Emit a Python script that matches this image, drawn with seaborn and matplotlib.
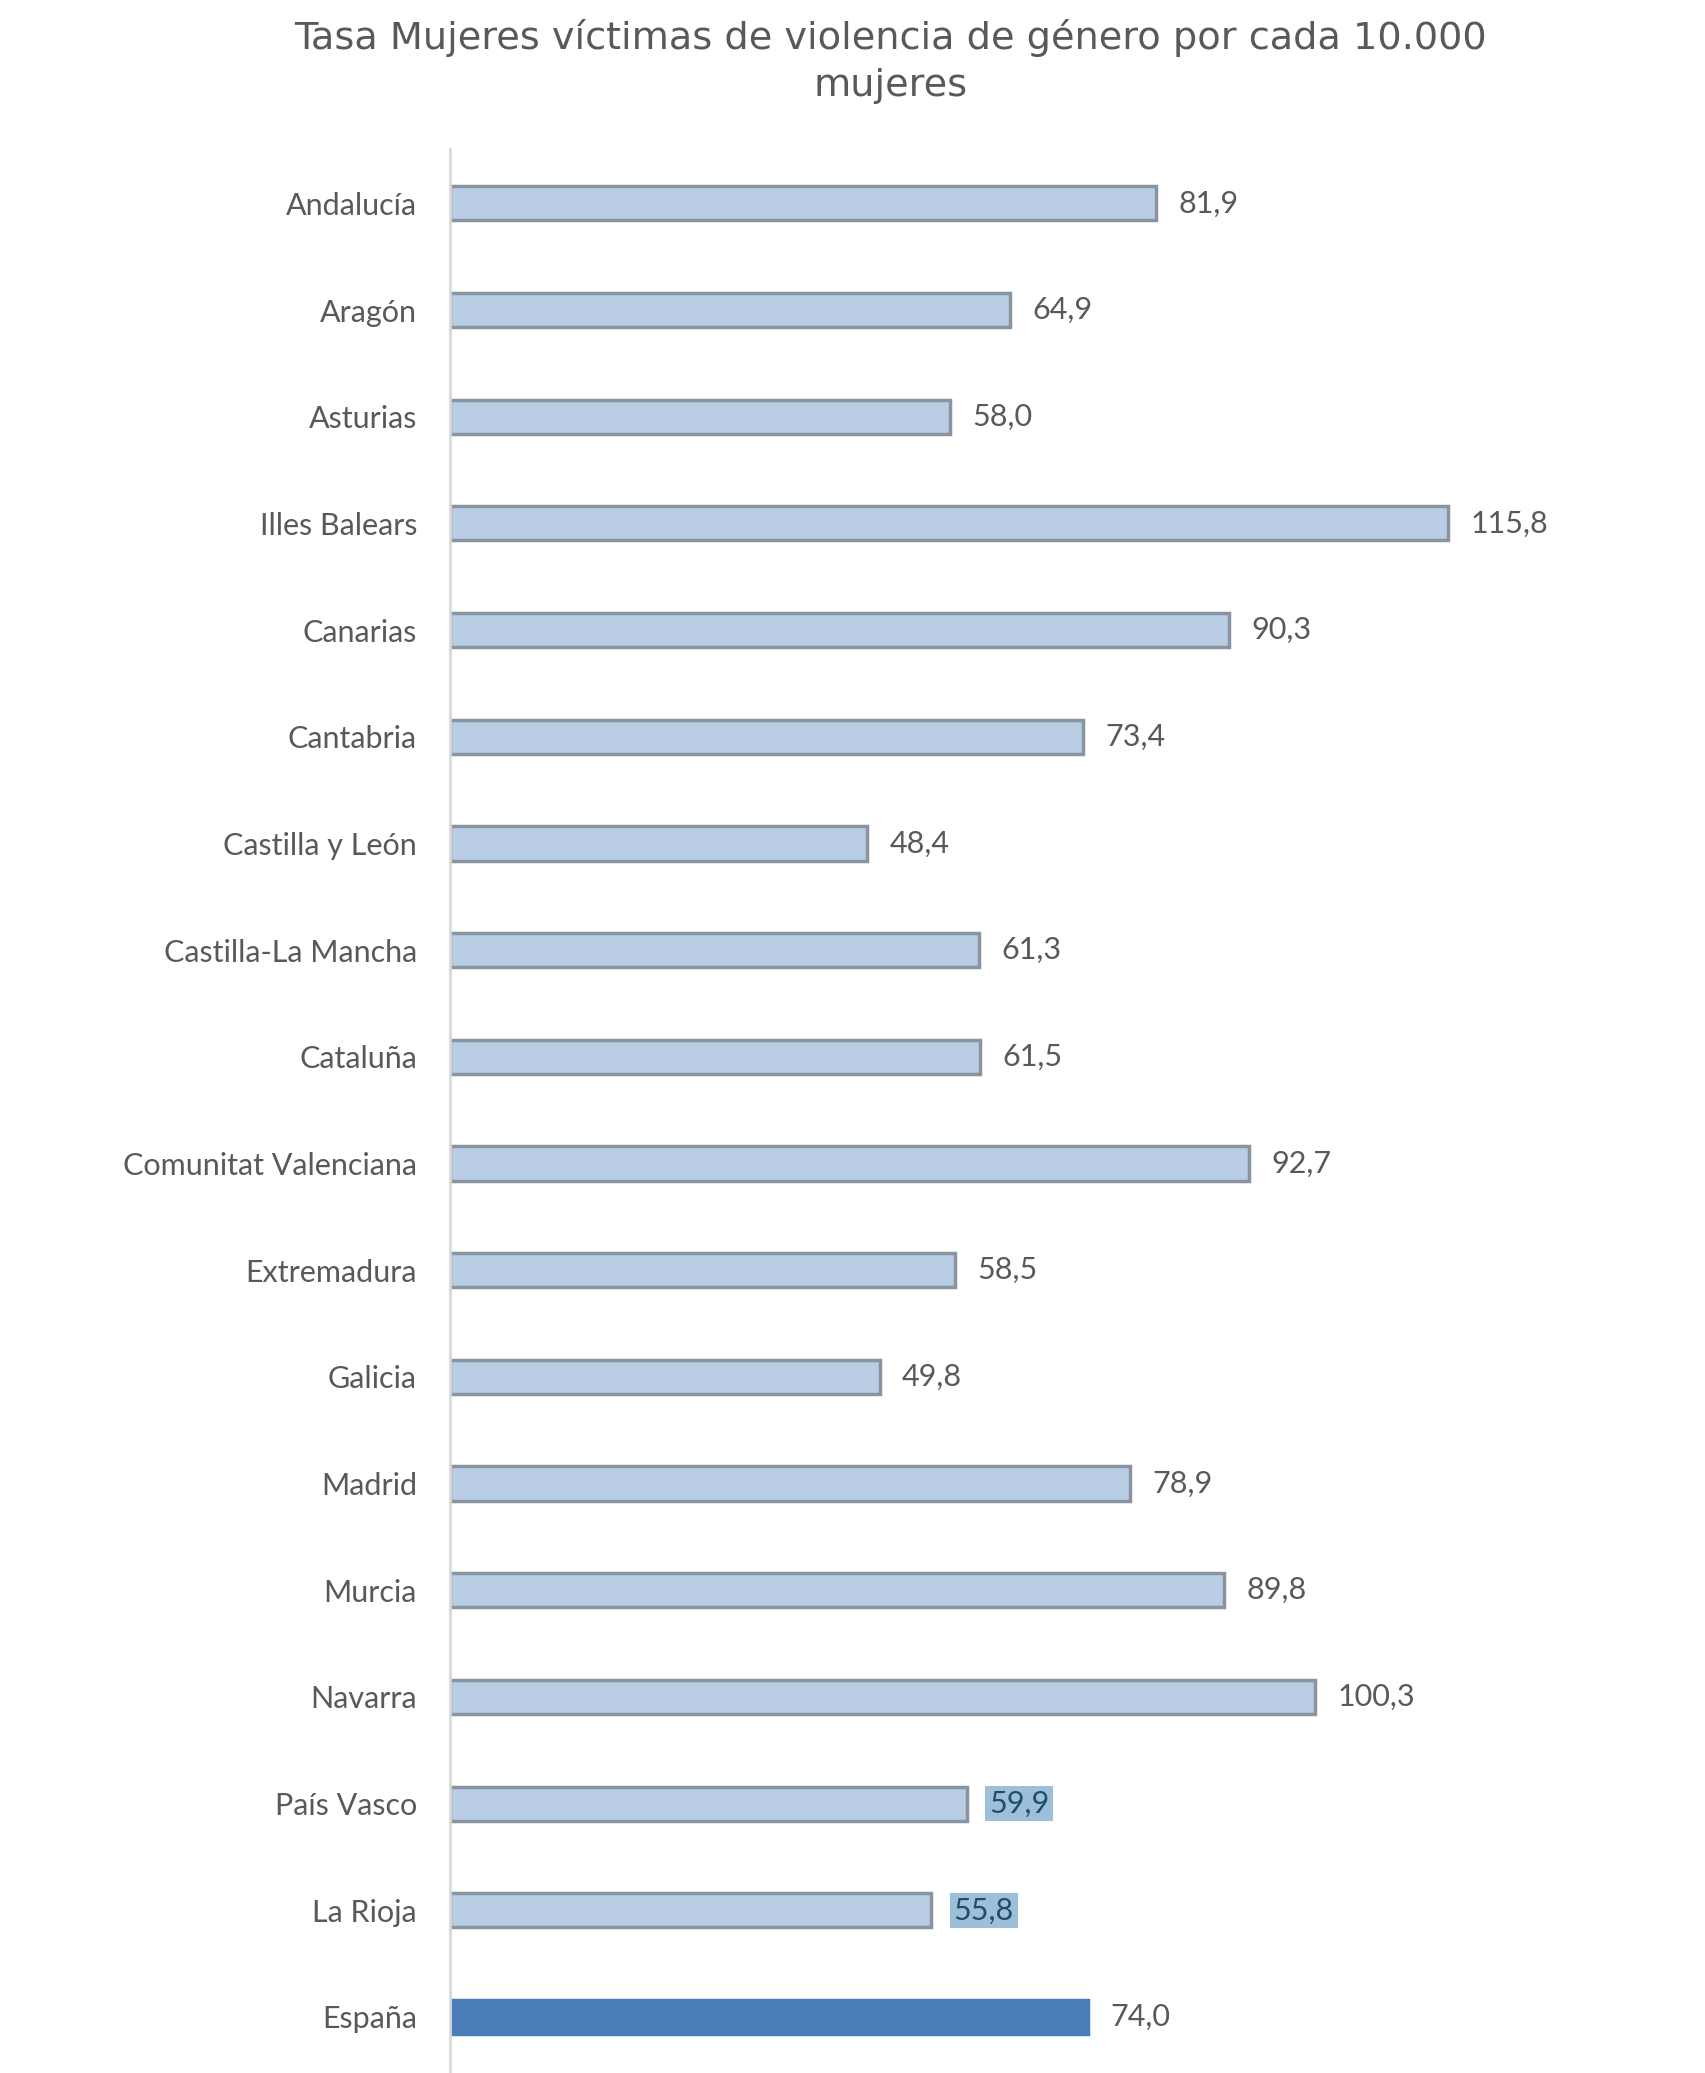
import numpy as np
import pandas as pd
import matplotlib
matplotlib.use("Agg")
import matplotlib.pyplot as plt
import seaborn as sns

regions = ["Andalucía", "Aragón", "Asturias", "Illes Balears", "Canarias",
           "Cantabria", "Castilla y León", "Castilla-La Mancha", "Cataluña",
           "Comunitat Valenciana", "Extremadura", "Galicia", "Madrid", "Murcia",
           "Navarra", "País Vasco", "La Rioja", "España"]
tasa = [81.9, 64.9, 58.0, 115.8, 90.3, 73.4, 48.4, 61.3, 61.5,
        92.7, 58.5, 49.8, 78.9, 89.8, 100.3, 59.9, 55.8, 74.0]
highlighted = ["País Vasco", "La Rioja"]

title = "Tasa Mujeres víctimas de violencia de género por cada 10.000\nmujeres"

df = pd.DataFrame({"region": regions, "tasa": tasa})
colors = ["#4a7ebb" if r == "España" else "#b9cde5" for r in regions]

sns.set_style("white")
plt.rcParams['font.family'] = ['Lato', 'DejaVu Sans']

fig = plt.figure(figsize=(17.06, 20.73), dpi=100)
ax = fig.add_axes([0.264, 0.0, 0.686, 0.928])

sns.barplot(data=df, x="tasa", y="region", hue="region", palette=colors,
            saturation=1, legend=False, width=0.32, ax=ax, linewidth=2.5,
            edgecolor="#8a949e")
for p, r in zip(ax.patches, regions):
    if r == "España":
        p.set_edgecolor("#4a7ebb")

ax.set_xlim(0, 135.8)
ax.set_ylim(17.525, -0.507)
ax.set_xlabel("")
ax.set_ylabel("")
ax.set_xticks([])
ax.tick_params(axis="y", length=0, pad=24, labelsize=22, labelcolor="#595959")
for s in ["top", "right", "bottom"]:
    ax.spines[s].set_visible(False)
ax.spines["left"].set_color("#d9d9d9")
ax.spines["left"].set_linewidth(2)

for i, (r, v) in enumerate(zip(regions, tasa)):
    txt = f"{v:.1f}".replace(".", ",")
    if r in highlighted:
        ax.text(v + 2.6, i, txt, va="center", ha="left", fontsize=22,
                color="#1f4e6b",
                bbox=dict(boxstyle="square,pad=0.12", facecolor="#9dbfd9",
                          edgecolor="none"))
    else:
        ax.text(v + 2.6, i, txt, va="center", ha="left", fontsize=22,
                color="#595959")

fig.text(0.522, 0.991, title, ha="center", va="top", fontsize=27.5,
         color="#595959", family=["DejaVu Sans"], linespacing=1.4)

fig.savefig("out.png", dpi=100, facecolor="white")
